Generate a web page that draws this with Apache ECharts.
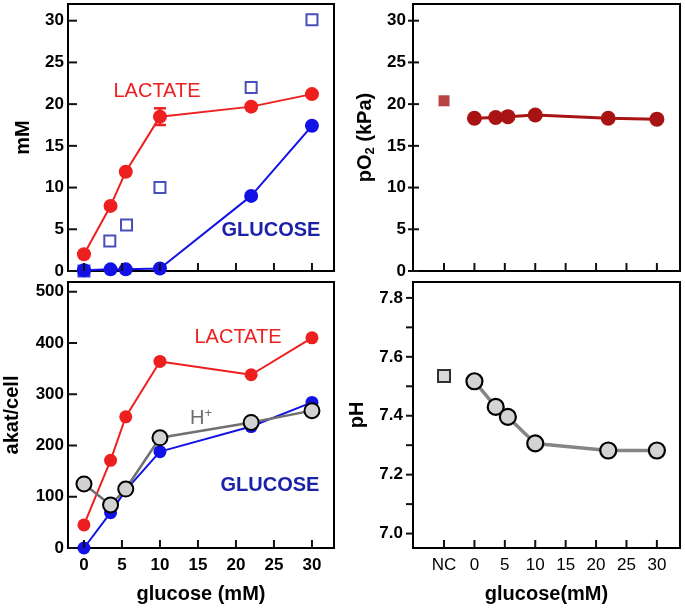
<!DOCTYPE html>
<html><head><meta charset="utf-8">
<script src="https://cdn.jsdelivr.net/npm/echarts@6/dist/echarts.min.js"></script>
<style>html,body{margin:0;padding:0;background:#fff}#c{width:685px;height:609px}</style>
</head><body><div id="c"></div>
<script>
// ---- data ----
const glucoseX = [0, 3.5, 5.5, 10, 22, 30];
const lactateMM = [2.0, 7.8, 11.9, 18.5, 19.7, 21.2];
const glucoseMM = [0.1, 0.2, 0.2, 0.3, 9.0, 17.4];
const glucoseAddedX = [0, 3.4, 5.6, 10, 22, 30];
const glucoseAddedMM = [0, 3.6, 5.5, 10.0, 22.0, 30.1];
const lactateErr = [[10, 17.5, 19.5]];
const lactateRate = [45, 171, 256, 364, 338, 410];
const glucoseRate = [0, 69, 113, 188, 237, 284];
const protonRate = [125, 84, 115, 215, 245, 268];
const ncX = -5;
const pO2NC = 20.4;
const pO2 = [18.3, 18.4, 18.5, 18.7, 18.3, 18.2];
const pHNC = 7.535;
const pH = [7.517, 7.43, 7.396, 7.306, 7.282, 7.282];
const xTicks = [0, 5, 10, 15, 20, 25, 30];
const xTicksNC = [-5, 0, 5, 10, 15, 20, 25, 30];
const mMTicks = [0, 5, 10, 15, 20, 25, 30];
const rateTicks = [0, 100, 200, 300, 400, 500];
const pHTicks = [7.0, 7.1, 7.2, 7.3, 7.4, 7.5, 7.6, 7.7, 7.8];
const pHLabels = [7.0, 7.2, 7.4, 7.6, 7.8];

const pair = (xs, ys) => xs.map((x, i) => [x, ys[i]]);

const FONT = '"Liberation Sans", Arial, sans-serif';
const RED = '#ee1f1f', BLUE = '#1212e6', NAVY = '#1c22a8', DRED = '#a81414', TICK = '#111111';

// axis ranges
const X_L = [-2.1, 32.9], X_R = [-10.1, 33.8];
const Y_MM = [0, 32], Y_RATE = [0, 519], Y_PH = [6.951, 7.854];

function yAx(grid, rng, labels, opts) {
  opts = opts || {};
  return {
    type: 'value', gridIndex: grid, min: rng[0], max: rng[1],
    axisLine: {show: false, onZero: false}, splitLine: {show: false}, axisTick: {show: false},
    axisLabel: {customValues: labels, margin: opts.margin || 4, color: '#000',
      fontFamily: FONT, fontWeight: 'bold', fontSize: 17,
      formatter: opts.fmt || (v => String(v))},
    name: opts.name, nameLocation: 'middle', nameGap: opts.nameGap || 40,
    nameTextStyle: Object.assign({fontFamily: FONT, fontWeight: 'bold', fontSize: 20, color: '#000'}, opts.nameStyle || {})
  };
}
function xAx(grid, rng, labels, opts) {
  opts = opts || {};
  return {
    type: 'value', gridIndex: grid, min: rng[0], max: rng[1],
    axisLine: {show: false, onZero: false}, splitLine: {show: false}, axisTick: {show: false},
    axisLabel: {show: !!labels, customValues: labels || [], margin: 9, color: '#000',
      fontFamily: FONT, fontWeight: opts.labelWeight || 'bold', fontSize: 17,
      formatter: opts.fmt || (v => String(v))},
    name: opts.name, nameLocation: 'middle', nameGap: 36,
    nameTextStyle: {fontFamily: FONT, fontWeight: 'bold', fontSize: 20, color: '#000'}
  };
}
// tick marks drawn through each grid's own scales
function xTickSeries(gi, vals, yRef, len) {
  return {type: 'custom', xAxisIndex: gi, yAxisIndex: gi, data: vals.map(v => [v, yRef]),
    encode: {x: 0, y: 1}, silent: true, z: 10,
    renderItem: function (params, api) {
      const cs = params.coordSys;
      const p = api.coord([api.value(0), api.value(1)]);
      const yb = cs.y + cs.height;
      return {type: 'line', shape: {x1: p[0], y1: yb, x2: p[0], y2: yb - len}, style: {stroke: TICK, lineWidth: 2}};
    }};
}
function yTickSeries(gi, vals, xRef, from, to) {
  return {type: 'custom', xAxisIndex: gi, yAxisIndex: gi, data: vals.map(v => [xRef, v]),
    encode: {x: 0, y: 1}, silent: true, z: 10,
    renderItem: function (params, api) {
      const cs = params.coordSys;
      const p = api.coord([api.value(0), api.value(1)]);
      return {type: 'line', shape: {x1: cs.x + from, y1: p[1], x2: cs.x + to, y2: p[1]}, style: {stroke: TICK, lineWidth: 2}};
    }};
}

const gridBase = {show: true, borderColor: '#000', borderWidth: 2};

const option = {
  animation: false,
  grid: [
    Object.assign({left: 68, top: 4, width: 266, height: 267}, gridBase),
    Object.assign({left: 68, top: 282, width: 266, height: 266}, gridBase),
    Object.assign({left: 413, top: 4, width: 267, height: 267}, gridBase),
    Object.assign({left: 413, top: 282, width: 267, height: 266}, gridBase)
  ],
  xAxis: [
    xAx(0, X_L, null),
    xAx(1, X_L, xTicks, {name: 'glucose (mM)'}),
    xAx(2, X_R, null),
    xAx(3, X_R, xTicksNC, {name: 'glucose(mM)', labelWeight: 'normal',
      fmt: v => (v === ncX ? 'NC' : String(v))})
  ],
  yAxis: [
    yAx(0, Y_MM, mMTicks, {name: 'mM', nameGap: 35}),
    yAx(1, Y_RATE, rateTicks, {name: 'akat/cell', nameGap: 46}),
    yAx(2, Y_MM, mMTicks, {name: 'pO{sub|2} (kPa)', nameGap: 36, margin: 7,
      nameStyle: {rich: {sub: {fontFamily: FONT, fontWeight: 'bold', fontSize: 13, verticalAlign: 'bottom', padding: [10, 0, 0, 0]}}}}),
    yAx(3, Y_PH, pHLabels, {name: 'pH', nameGap: 46, margin: 10, fmt: v => v.toFixed(1)})
  ],
  graphic: [
    {type: 'text', x: 157, y: 91, style: {text: 'LACTATE', align: 'center', verticalAlign: 'middle', fill: RED, font: 'normal 20px ' + FONT}},
    {type: 'text', x: 271, y: 230, style: {text: 'GLUCOSE', align: 'center', verticalAlign: 'middle', fill: NAVY, font: 'bold 20px ' + FONT}},
    {type: 'text', x: 238, y: 337, style: {text: 'LACTATE', align: 'center', verticalAlign: 'middle', fill: RED, font: 'normal 20px ' + FONT}},
    {type: 'text', x: 270, y: 485, style: {text: 'GLUCOSE', align: 'center', verticalAlign: 'middle', fill: NAVY, font: 'bold 20px ' + FONT}},
    {type: 'text', x: 201, y: 418, style: {text: 'H{sup|+}', align: 'center', verticalAlign: 'middle', fill: '#6e6e6e',
      font: 'normal 20px ' + FONT,
      rich: {sup: {fontSize: 13, fontFamily: FONT, fill: '#6e6e6e', verticalAlign: 'top', padding: [0, 0, 10, 0]}}}}
  ],
  series: [
    // tick marks
    xTickSeries(0, xTicks, Y_MM[0], 8),
    yTickSeries(0, mMTicks, X_L[0], 0, 9),
    xTickSeries(1, xTicks, Y_RATE[0], 8),
    yTickSeries(1, rateTicks, X_L[0], 0, 9),
    xTickSeries(2, xTicksNC, Y_MM[0], 8),
    yTickSeries(2, mMTicks, X_R[0], -5, 6),
    xTickSeries(3, xTicksNC, Y_PH[0], 8),
    yTickSeries(3, pHTicks, X_R[0], -7, 0),
    // top-left
    {type: 'line', xAxisIndex: 0, yAxisIndex: 0, data: pair(glucoseX, glucoseMM), symbol: 'circle', symbolSize: 14,
      lineStyle: {color: BLUE, width: 2}, itemStyle: {color: BLUE}},
    {type: 'scatter', xAxisIndex: 0, yAxisIndex: 0, data: pair(glucoseAddedX, glucoseAddedMM).map((d, i) =>
        i === 0 ? {value: d, itemStyle: {color: BLUE, borderColor: BLUE}} : d),
      symbol: 'rect', symbolSize: 11, itemStyle: {color: '#fff', borderColor: NAVY, borderWidth: 2}},
    {type: 'custom', xAxisIndex: 0, yAxisIndex: 0, data: lactateErr,
      encode: {x: 0, y: [1, 2]},
      renderItem: function (params, api) {
        const x = api.value(0);
        const lo = api.coord([x, api.value(1)]), hi = api.coord([x, api.value(2)]);
        const w = 6, st = {stroke: RED, lineWidth: 2.5};
        return {type: 'group', children: [
          {type: 'line', shape: {x1: lo[0], y1: lo[1], x2: hi[0], y2: hi[1]}, style: st},
          {type: 'line', shape: {x1: lo[0] - w, y1: lo[1], x2: lo[0] + w, y2: lo[1]}, style: st},
          {type: 'line', shape: {x1: hi[0] - w, y1: hi[1], x2: hi[0] + w, y2: hi[1]}, style: st}
        ]};
      }},
    {type: 'line', xAxisIndex: 0, yAxisIndex: 0, data: pair(glucoseX, lactateMM), symbol: 'circle', symbolSize: 14,
      lineStyle: {color: RED, width: 2}, itemStyle: {color: RED}},
    // bottom-left
    {type: 'line', xAxisIndex: 1, yAxisIndex: 1, data: pair(glucoseX, glucoseRate), symbol: 'circle', symbolSize: 13,
      lineStyle: {color: BLUE, width: 2}, itemStyle: {color: BLUE}},
    {type: 'line', xAxisIndex: 1, yAxisIndex: 1, data: pair(glucoseX, lactateRate), symbol: 'circle', symbolSize: 13,
      lineStyle: {color: RED, width: 2}, itemStyle: {color: RED}},
    {type: 'line', xAxisIndex: 1, yAxisIndex: 1, data: pair(glucoseX, protonRate), symbol: 'circle', symbolSize: 15,
      lineStyle: {color: '#707070', width: 2.5}, itemStyle: {color: '#d2d2d2', borderColor: '#000', borderWidth: 2}},
    // top-right
    {type: 'scatter', xAxisIndex: 2, yAxisIndex: 2, data: [[ncX, pO2NC]], symbol: 'rect', symbolSize: 11,
      itemStyle: {color: DRED}},
    {type: 'line', xAxisIndex: 2, yAxisIndex: 2, data: pair(glucoseX, pO2), symbol: 'circle', symbolSize: 15,
      lineStyle: {color: DRED, width: 3}, itemStyle: {color: DRED}},
    // bottom-right
    {type: 'scatter', xAxisIndex: 3, yAxisIndex: 3, data: [[ncX, pHNC]], symbol: 'rect', symbolSize: 12,
      itemStyle: {color: '#cfcfcf', borderColor: '#000', borderWidth: 2}},
    {type: 'line', xAxisIndex: 3, yAxisIndex: 3, data: pair(glucoseX, pH), symbol: 'circle', symbolSize: 16,
      lineStyle: {color: '#858585', width: 3.5}, itemStyle: {color: '#d3d3d3', borderColor: '#000', borderWidth: 2.2}}
  ]
};
const chart = echarts.init(document.getElementById('c'), null, {renderer: 'canvas'});
chart.setOption(option);
</script></body></html>
